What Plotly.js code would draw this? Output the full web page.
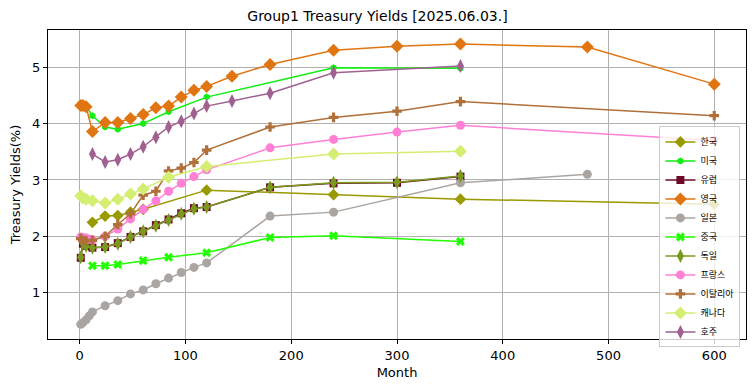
<!DOCTYPE html>
<html>
<head>
<meta charset="utf-8">
<script src="https://cdn.plot.ly/plotly-3.0.1.min.js"></script>
<style>html,body{margin:0;padding:0;background:#fff;}#chart{width:755px;height:391px;}</style>
</head>
<body>
<div id="chart"></div>
<script>
// Series names (legend order)
const names = ['한국','미국','유럽','영국','일본','중국','독일','프랑스','이탈리아','캐나다','호주'];

// Maturities (months) and yields (%) per country
const krM = [12,24,36,48,60,120,240,360,600];
const krY = [2.25,2.36,2.37,2.43,2.48,2.82,2.74,2.66,2.57];

const usM = [1,2,3,4,6,12,24,36,60,84,120,240,360];
const usY = [4.36,4.35,4.35,4.33,4.31,4.14,3.94,3.90,4.00,4.21,4.47,4.99,4.98];

const euM = [1,3,6,12,24,36,48,60,72,84,96,108,120,180,240,300,360];
const euY = [1.62,1.87,1.83,1.80,1.81,1.88,1.99,2.09,2.20,2.30,2.41,2.50,2.52,2.87,2.94,2.95,3.06];

const ukM = [1,3,6,12,24,36,48,60,72,84,96,108,120,144,180,240,300,360,480,600];
const ukY = [4.32,4.32,4.30,3.86,4.02,4.02,4.09,4.16,4.28,4.31,4.47,4.59,4.66,4.84,5.05,5.30,5.37,5.41,5.36,4.70];

const jpM = [1,3,6,9,12,24,36,48,60,72,84,96,108,120,180,240,360,480];
const jpY = [0.44,0.47,0.52,0.59,0.66,0.77,0.86,0.98,1.05,1.16,1.26,1.36,1.45,1.53,2.36,2.43,2.95,3.10];

const cnM = [12,24,36,60,84,120,180,240,360];
const cnY = [1.48,1.48,1.50,1.57,1.63,1.71,1.98,2.01,1.91];

const deM = [1,3,6,12,24,36,48,60,72,84,96,108,120,180,240,300,360];
const deY = [1.63,1.88,1.83,1.80,1.81,1.87,1.99,2.09,2.19,2.29,2.40,2.49,2.52,2.87,2.95,2.96,3.07];

const frM = [1,3,6,9,12,24,36,48,60,72,84,96,108,120,180,240,300,360,600];
const frY = [1.99,1.98,1.97,1.95,1.94,2.00,2.13,2.31,2.48,2.63,2.80,2.94,3.06,3.18,3.57,3.72,3.85,3.97,3.70];

const itM = [1,3,6,12,24,36,48,60,72,84,96,108,120,180,240,300,360,600];
const itY = [1.96,1.93,1.92,1.93,2.00,2.21,2.40,2.73,2.80,3.16,3.21,3.31,3.53,3.94,4.11,4.22,4.39,4.14];

const caM = [1,3,6,12,24,36,48,60,84,120,240,360];
const caY = [2.72,2.68,2.66,2.63,2.59,2.66,2.75,2.84,3.05,3.24,3.46,3.51];

const auM = [12,24,36,48,60,72,84,96,108,120,144,180,240,360];
const auY = [3.46,3.32,3.36,3.46,3.59,3.76,3.94,4.04,4.18,4.31,4.40,4.54,4.90,5.02];

const xTicks = [0,100,200,300,400,500,600];
const yTicks = [1,2,3,4,5];

const series = [
  {m: krM, y: krY, color: '#999900', symbol: 'diamond', size: 9},
  {m: usM, y: usY, color: '#11ee11', symbol: 'hexagon', size: 7},
  {m: euM, y: euY, color: '#6e0a25', symbol: 'square', size: 8},
  {m: ukM, y: ukY, color: '#e07511', symbol: 'diamond', size: 10},
  {m: jpM, y: jpY, color: '#aaa5a0', symbol: 'circle', size: 9},
  {m: cnM, y: cnY, color: '#22ff00', symbol: 'x', size: 8},
  {m: deM, y: deY, color: '#7a9a1e', symbol: 'diamond-tall', size: 10},
  {m: frM, y: frY, color: '#ff80d4', symbol: 'circle', size: 9},
  {m: itM, y: itY, color: '#b07038', symbol: 'cross', size: 8},
  {m: caM, y: caY, color: '#d4ee72', symbol: 'diamond', size: 10},
  {m: auM, y: auY, color: '#a06090', symbol: 'diamond-tall', size: 10}
];

const traces = series.map((s, i) => ({
  type: 'scatter',
  mode: 'lines+markers',
  name: names[i],
  x: s.m,
  y: s.y,
  line: {color: s.color, width: 1.5},
  marker: {color: s.color, symbol: s.symbol, size: s.size, line: {width: 0}}
}));

const font = 'DejaVu Sans, Noto Sans CJK KR, sans-serif';

const layout = {
  width: 755, height: 391,
  margin: {l: 48, r: 9, t: 30, b: 52},
  paper_bgcolor: '#ffffff',
  plot_bgcolor: '#ffffff',
  font: {family: font, size: 13, color: '#000'},
  title: {text: 'Group1 Treasury Yields [2025.06.03.]', x: 0.5, xanchor: 'center', y: 0.958, yanchor: 'middle', font: {family: font, size: 14, color: '#000'}},
  xaxis: {
    range: [-30, 630],
    tickvals: xTicks,
    ticktext: xTicks.map(String),
    showgrid: true, gridcolor: '#b0b0b0', gridwidth: 1,
    zeroline: false,
    showline: true, linecolor: '#000', linewidth: 1, mirror: true,
    ticks: 'outside', ticklen: 4, tickcolor: '#000',
    tickfont: {family: font, size: 13},
    title: {text: 'Month', font: {family: font, size: 13}, standoff: 6}
  },
  yaxis: {
    range: [0.18, 5.66],
    tickvals: yTicks,
    ticktext: yTicks.map(String),
    showgrid: true, gridcolor: '#b0b0b0', gridwidth: 1,
    zeroline: false,
    showline: true, linecolor: '#000', linewidth: 1, mirror: true,
    ticks: 'outside', ticklen: 4, tickcolor: '#000',
    tickfont: {family: font, size: 13},
    title: {text: 'Treasury Yields(%)', font: {family: font, size: 13}, standoff: 8}
  },
  showlegend: true,
  legend: {
    x: 0.992, xanchor: 'right', y: 0.688, yanchor: 'top',
    bgcolor: 'rgba(255,255,255,0.8)', bordercolor: '#cccccc', borderwidth: 1,
    font: {family: font, size: 9},
    tracegroupgap: 0, itemwidth: 30
  }
};

Plotly.newPlot('chart', traces, layout, {displayModeBar: false, staticPlot: true});
</script>
</body>
</html>
